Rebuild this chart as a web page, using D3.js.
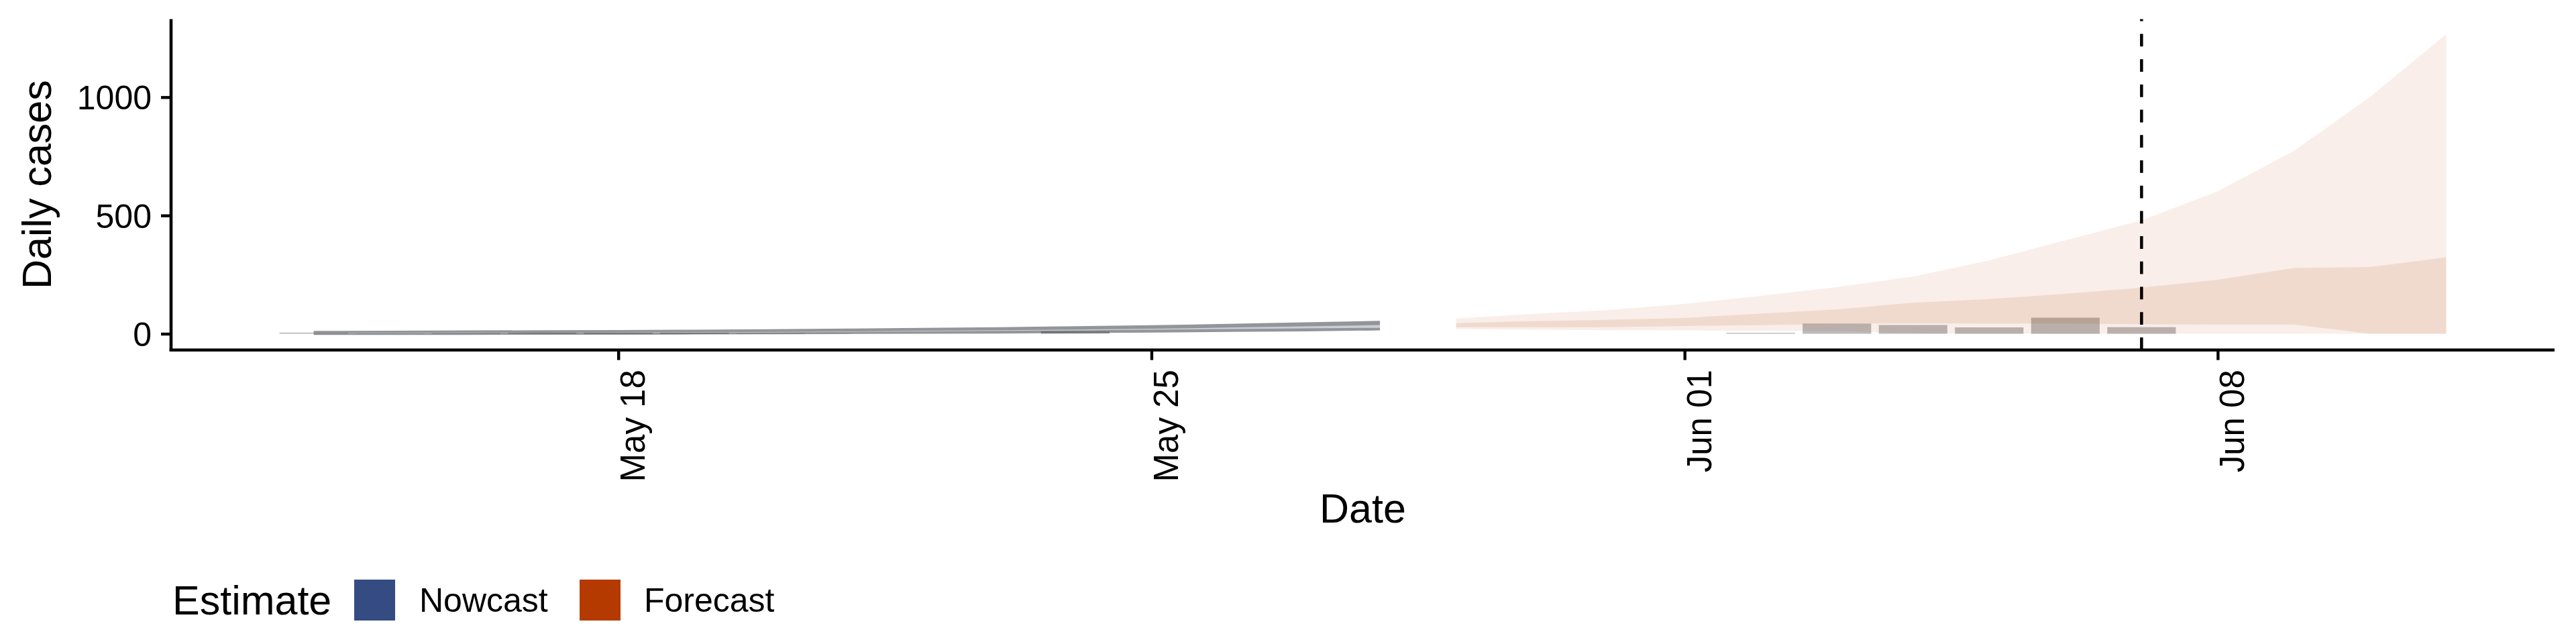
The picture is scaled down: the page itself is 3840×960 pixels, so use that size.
<!DOCTYPE html>
<html>
<head>
<meta charset="utf-8">
<script src="https://cdn.jsdelivr.net/npm/d3@7"></script>
<style>
  html, body { margin: 0; padding: 0; background: #ffffff; }
  svg { display: block; }
  text { font-family: "Liberation Sans", Arial, Helvetica, sans-serif; fill: #000; }
</style>
</head>
<body>
<svg id="chart" width="3840" height="960"></svg>
<script>
// ---------------- DATA ----------------
const reportDates = ["2020-05-14","2020-05-15","2020-05-16","2020-05-17","2020-05-18","2020-05-19","2020-05-20",
  "2020-05-21","2020-05-22","2020-05-23","2020-05-24","2020-05-25","2020-05-26","2020-05-27","2020-05-28",
  "2020-05-29","2020-05-30","2020-05-31","2020-06-01","2020-06-02","2020-06-03","2020-06-04","2020-06-05",
  "2020-06-06","2020-06-07"];
const reportedCases = [5, 1, 4, 5, 5, 5, 2, 0, 0, 0, 10, 0, 0, 0, 0, 0, 0, 0, 0, 4, 43, 37, 27, 68, 28];

const nowcastDates = ["2020-05-14","2020-05-15","2020-05-16","2020-05-17","2020-05-18","2020-05-19","2020-05-20",
  "2020-05-21","2020-05-22","2020-05-23","2020-05-24","2020-05-25","2020-05-26","2020-05-27","2020-05-28"];
const nowcastOuterLower = [-5, -5, -5, -4, -4, -3, -2, -1, 0, 1, 3, 5, 8, 10, 14];
const nowcastOuterUpper = [12, 13, 14, 15, 16, 17, 19, 22, 25, 28, 32, 36, 42, 48, 55];
const nowcastInnerLower = [3, 3, 3, 4, 4, 5, 6, 8, 10, 12, 14, 17, 20, 23, 25];
const nowcastInnerUpper = [4, 4, 5, 5, 6, 7, 8, 10, 13, 15, 18, 21, 26, 31, 37];

const forecastDates = ["2020-05-29","2020-05-30","2020-05-31","2020-06-01","2020-06-02","2020-06-03","2020-06-04",
  "2020-06-05","2020-06-06","2020-06-07","2020-06-08","2020-06-09","2020-06-10","2020-06-11"];
const forecastOuterLower = [20, 17, 15, 14, 13, 12, 2, 1, 0, 0, 0, 0, 0, 0];
const forecastOuterUpper = [64, 84, 100, 126, 160, 197, 242, 310, 395, 479, 602, 773, 1001, 1266];
const forecastInnerLower = [28, 28, 28, 33, 36, 42, 44, 43, 43, 40, 39, 39, 0, 0];
const forecastInnerUpper = [45, 53, 59, 67, 85, 103, 131, 147, 169, 195, 228, 278, 282, 323];

const vlineDate = "2020-06-07";
const xTickDates = ["2020-05-18","2020-05-25","2020-06-01","2020-06-08"];
const yTickValues = [0, 500, 1000];
const legendTitle = "Estimate";
const legendLabels = ["Nowcast", "Forecast"];
const legendColors = ["#344C82", "#B43A00"];
const xTitle = "Date";
const yTitle = "Daily cases";

// ---------------- SETUP ----------------
const parse = d3.utcParse("%Y-%m-%d");
const DAY = 864e5;
const fmt = d3.utcFormat("%b %d");
const barHalf = 0.45 * DAY;

const panel = { left: 255, right: 3808, top: 28.6, bottom: 521.7 };

const xCandidates = [
  ...reportDates.map(d => +parse(d) - barHalf),
  ...reportDates.map(d => +parse(d) + barHalf),
  ...nowcastDates.map(d => +parse(d)),
  ...forecastDates.map(d => +parse(d)),
  +parse(vlineDate)
];
const xMin = d3.min(xCandidates), xMax = d3.max(xCandidates);
const xR = xMax - xMin;
const x = d3.scaleUtc()
  .domain([new Date(xMin - 0.05 * xR), new Date(xMax + 0.05 * xR)])
  .range([panel.left, panel.right]);

const yCandidates = [0, ...reportedCases, ...nowcastOuterLower, ...nowcastOuterUpper,
  ...forecastOuterLower, ...forecastOuterUpper];
const yMin = d3.min(yCandidates), yMax = d3.max(yCandidates);
const yR = yMax - yMin;
const y = d3.scaleLinear()
  .domain([yMin - 0.05 * yR, yMax + 0.05 * yR])
  .range([panel.bottom, panel.top]);

const svg = d3.select("#chart");
svg.append("rect").attr("width", 3840).attr("height", 960).attr("fill", "#ffffff");

const plot = svg.append("g");

// bars (reported cases)
const bars = reportDates.map((d, i) => ({ date: parse(d), value: reportedCases[i] })).filter(d => d.value > 0);
plot.append("g").selectAll("rect").data(bars).join("rect")
  .attr("x", d => x(new Date(+d.date - barHalf)))
  .attr("width", d => x(new Date(+d.date + barHalf)) - x(new Date(+d.date - barHalf)))
  .attr("y", d => y(d.value))
  .attr("height", d => y(0) - y(d.value))
  .attr("fill", "#bbbbbb");

function ribbon(dates, lo, hi) {
  const data = dates.map((d, i) => ({ date: parse(d), lo: lo[i], hi: hi[i] }));
  return d3.area().x(d => x(d.date)).y0(d => y(d.lo)).y1(d => y(d.hi))(data);
}

// nowcast ribbons
plot.append("path").attr("d", ribbon(nowcastDates, nowcastOuterLower, nowcastOuterUpper))
  .attr("fill", "#939598").style("mix-blend-mode", "multiply");
plot.append("path").attr("d", ribbon(nowcastDates, nowcastInnerLower, nowcastInnerUpper))
  .attr("fill", "#c9ced8");

// forecast ribbons
plot.append("path").attr("d", ribbon(forecastDates, forecastOuterLower, forecastOuterUpper))
  .attr("fill", legendColors[1]).attr("fill-opacity", 0.085);
plot.append("path").attr("d", ribbon(forecastDates, forecastInnerLower, forecastInnerUpper))
  .attr("fill", legendColors[1]).attr("fill-opacity", 0.115);

// dashed vline
const vx = x(parse(vlineDate));
plot.append("path")
  .attr("d", `M${vx},${panel.bottom}L${vx},${panel.top}`)
  .attr("stroke", "#000").attr("stroke-width", 4.5)
  .attr("stroke-dasharray", "18.8 18.9");

// ---------------- AXES ----------------
const xAxis = d3.axisBottom(x)
  .tickValues(xTickDates.map(parse))
  .tickFormat(fmt)
  .tickSize(15)
  .tickSizeOuter(0);
const gx = svg.append("g").attr("transform", `translate(0,${panel.bottom})`).call(xAxis);
gx.attr("font-family", null).attr("font-size", null);
gx.select(".domain").attr("stroke", "#000").attr("stroke-width", 4.6)
  .attr("d", `M${panel.left - 2.3},0H${panel.right}`);
gx.selectAll(".tick line").attr("stroke", "#000").attr("stroke-width", 4.4);
gx.selectAll(".tick text")
  .attr("y", null).attr("dy", null).attr("x", null)
  .attr("text-anchor", "end")
  .attr("transform", "translate(39,29.5) rotate(-90)")
  .style("font-size", "51px").attr("fill", "#000");

const yAxis = d3.axisLeft(y)
  .tickValues(yTickValues)
  .tickFormat(d3.format("d"))
  .tickSize(15)
  .tickSizeOuter(0);
const gy = svg.append("g").attr("transform", `translate(${panel.left},0)`).call(yAxis);
gy.attr("font-family", null).attr("font-size", null);
gy.select(".domain").attr("stroke", "#000").attr("stroke-width", 4.6)
  .attr("d", `M0,${panel.top}V${panel.bottom + 2.3}`);
gy.selectAll(".tick line").attr("stroke", "#000").attr("stroke-width", 4.4);
gy.selectAll(".tick text")
  .attr("x", -29).attr("dy", "0.358em")
  .attr("text-anchor", "end")
  .style("font-size", "50px").attr("fill", "#000");

// axis titles
svg.append("text")
  .attr("x", (panel.left + panel.right) / 2).attr("y", 779)
  .attr("text-anchor", "middle").style("font-size", "61px").text(xTitle);
svg.append("text")
  .attr("transform", `translate(76,${(panel.top + panel.bottom) / 2}) rotate(-90)`)
  .attr("text-anchor", "middle").style("font-size", "61px").text(yTitle);

// ---------------- LEGEND ----------------
const leg = svg.append("g");
leg.append("text").attr("x", 257).attr("y", 916).style("font-size", "61px").text(legendTitle);
const keyX = [528, 864];
const labelX = [625, 960];
legendLabels.forEach((lab, i) => {
  leg.append("rect").attr("x", keyX[i]).attr("y", 864).attr("width", 61).attr("height", 61)
    .attr("fill", legendColors[i]);
  leg.append("text").attr("x", labelX[i]).attr("y", 912).style("font-size", "50px").text(lab);
});
</script>
</body>
</html>
